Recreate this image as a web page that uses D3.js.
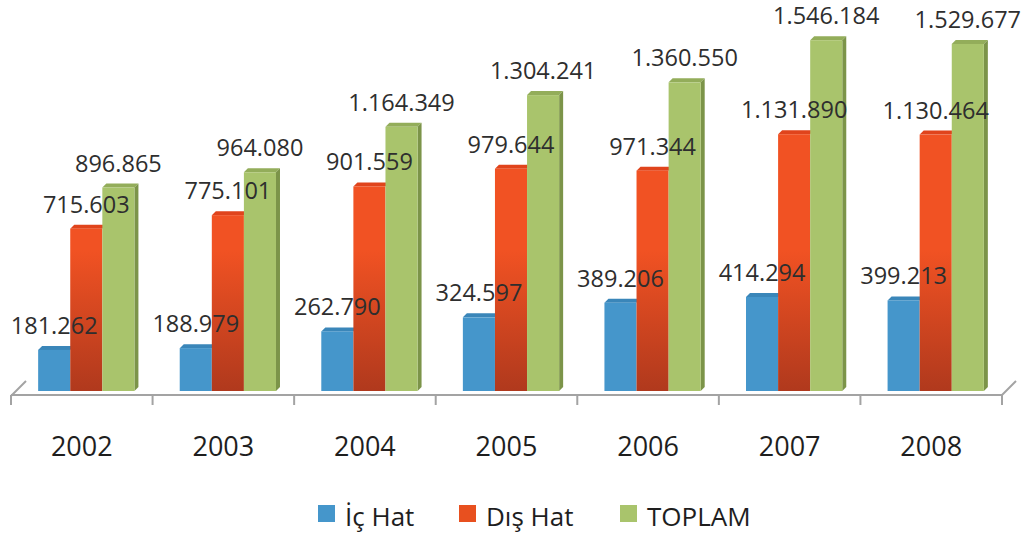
<!DOCTYPE html>
<html>
<head>
<meta charset="utf-8">
<script src="https://cdn.jsdelivr.net/npm/d3@7"></script>
<style>
  body { margin: 0; background: #fff; }
  text { font-family: "Open Sans", sans-serif; }
</style>
</head>
<body>
<div id="container"></div>
<script>
const years = ["2002", "2003", "2004", "2005", "2006", "2007", "2008"]
const series = ["İç Hat", "Dış Hat", "TOPLAM"]
const icHat = [181262, 188979, 262790, 324597, 389206, 414294, 399213]
const disHat = [715603, 775101, 901559, 979644, 971344, 1131890, 1130464]
const toplam = [896865, 964080, 1164349, 1304241, 1360550, 1546184, 1529677]

const width = 1025
const height = 534

const fills = ["#4596cb", "url(#redGrad)", "#a9c46c"]
const legendFills = ["#4596cb", "#e8501f", "#a9c46c"]
const tops = ["#3a86b9", "#e0441c", "#93ad5a"]
const sides = ["#2f6f9c", "#9e3418", "#7c9449"]

const data = years.map((y, i) => ({ year: y, values: [icHat[i], disHat[i], toplam[i]] }))

const svg = d3.select("#container").append("svg")
    .attr("width", width)
    .attr("height", height)

const defs = svg.append("defs")
const grad = defs.append("linearGradient")
    .attr("id", "redGrad")
    .attr("gradientUnits", "userSpaceOnUse")
    .attr("x1", 0).attr("x2", 0)
    .attr("y1", 250).attr("y2", 391)
grad.append("stop").attr("offset", "0%").attr("stop-color", "#f15223")
grad.append("stop").attr("offset", "100%").attr("stop-color", "#b0391d")

const x = d3.scaleBand()
    .domain(years)
    .range([11, 1002])

const y = d3.scaleLinear()
    .domain([0, 1600000])
    .range([391, 28])

const groupW = x.bandwidth() * 0.68
const x1 = d3.scaleBand()
    .domain(series)
    .range([0, groupW])

const depth = 4
const fmt = d3.formatLocale({ decimal: ",", thousands: ".", grouping: [3], currency: ["", ""] }).format(",d")

// floor / axis
const axisColor = "#a3a3a3"
const floor = svg.append("g").attr("stroke", axisColor).attr("stroke-width", 2).attr("fill", "none")
floor.append("line")
    .attr("x1", x.range()[0]).attr("x2", x.range()[1])
    .attr("y1", 395).attr("y2", 395)
floor.selectAll("line.tick")
    .data(years.concat(["end"]))
    .enter().append("line")
    .attr("class", "tick")
    .attr("x1", d => d === "end" ? x.range()[1] : x(d))
    .attr("x2", d => d === "end" ? x.range()[1] : x(d))
    .attr("y1", 395).attr("y2", 405)
floor.append("line")
    .attr("x1", x.range()[0]).attr("y1", 396)
    .attr("x2", x.range()[0] + 15).attr("y2", 381)
floor.append("line")
    .attr("x1", x.range()[1]).attr("y1", 395)
    .attr("x2", x.range()[1] + 14).attr("y2", 381)

// bars
const group = svg.selectAll("g.year")
    .data(data)
    .enter().append("g")
    .attr("class", "year")
    .attr("transform", d => `translate(${x(d.year) + (x.bandwidth() - groupW) / 2 + 4.5}, 0)`)

const bar = group.selectAll("g.bar")
    .data(d => d.values.map((v, i) => ({ v, i, name: series[i] })))
    .enter().append("g")
    .attr("class", "bar")

const bw = x1.bandwidth()
// top face
bar.append("path")
    .attr("fill", d => tops[d.i])
    .attr("d", d => {
        const l = x1(d.name), t = y(d.v)
        return `M${l},${t}L${l + depth},${t - depth}L${l + bw + depth},${t - depth}L${l + bw},${t}Z`
    })
// side face (only visible on the last bar of each group)
bar.filter(d => d.i === 2).append("path")
    .attr("fill", d => sides[d.i])
    .attr("d", d => {
        const r = x1(d.name) + bw, t = y(d.v), b = y(0)
        return `M${r},${t}L${r + depth},${t - depth}L${r + depth},${b - depth}L${r},${b}Z`
    })
bar.append("rect")
    .attr("x", d => x1(d.name))
    .attr("y", d => y(d.v))
    .attr("width", bw)
    .attr("height", d => y(0) - y(d.v))
    .attr("fill", d => fills[d.i])

// value labels
group.selectAll("text.val")
    .data(d => d.values.map((v, i) => ({ v, i, name: series[i] })))
    .enter().append("text")
    .attr("class", "val")
    .attr("x", d => x1(d.name) + bw / 2)
    .attr("y", d => y(d.v) - 16)
    .attr("text-anchor", "middle")
    .attr("fill", "#2e2e2e")
    .style("font-size", "23.5px")
    .text(d => fmt(d.v))

// year labels
svg.selectAll("text.yr")
    .data(years)
    .enter().append("text")
    .attr("class", "yr")
    .attr("x", d => x(d) + x.bandwidth() / 2)
    .attr("y", 456)
    .attr("text-anchor", "middle")
    .attr("fill", "#1e1e1e")
    .style("font-size", "27px")
    .text(d => d)

// legend
const legendX = [318, 459, 620]
const legend = svg.selectAll("g.legend")
    .data(series)
    .enter().append("g")
    .attr("class", "legend")
    .attr("transform", (d, i) => `translate(${legendX[i]}, 505)`)
legend.append("rect")
    .attr("width", 17)
    .attr("height", 17)
    .attr("fill", (d, i) => legendFills[i])
legend.append("text")
    .attr("x", 27)
    .attr("y", 21)
    .attr("fill", "#1e1e1e")
    .style("font-size", "26px")
    .text(d => d)
</script>
</body>
</html>
